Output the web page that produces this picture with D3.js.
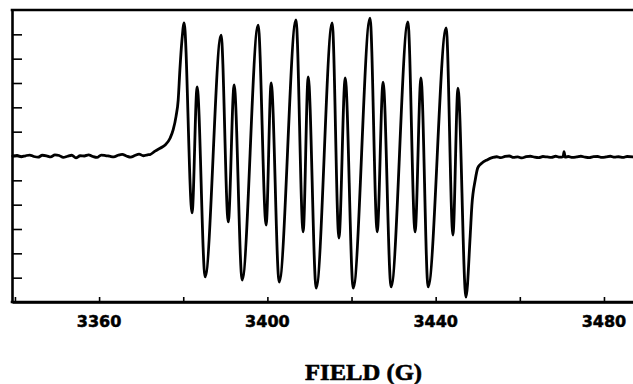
<!DOCTYPE html>
<html lang="en">
<head>
  <meta charset="UTF-8">
  <title>EPR spectrum – Field (G)</title>
  <script src="https://d3js.org/d3.v7.min.js"></script>
  <style>
    body {
      margin: 0;
      background: #fff;
    }
    .frame {
      stroke: #000;
      stroke-width: 2.6px;
      fill: none;
    }
    .tick-label {
      font-family: "DejaVu Sans", sans-serif;
      font-weight: bold;
      font-size: 16px;
      stroke: #000;
      stroke-width: 0.5px;
    }
    .axis-title {
      font-family: "Liberation Serif", "Times New Roman", serif;
      font-weight: bold;
      font-size: 23px;
      stroke: #000;
      stroke-width: 0.6px;
    }
  </style>
</head>
<body>
<div id="chart"></div>

<script>
  // field ticks (G) and labelled ones
  var fieldTicks = [3340, 3360, 3380, 3400, 3420, 3440, 3460, 3480];
  var fieldLabels = [3360, 3400, 3440, 3480];
  var signalTicks = [-5, -4, -3, -2, -1, 0, 1, 2, 3, 4, 5];

  // trace: field (G) and signal (arb. units)
  var fieldG = [
    3339.5, 3340.5, 3341.5, 3342.5, 3343.5, 3344.5, 3345.5, 3346.5, 3347.5, 3348.5,
    3349.5, 3350.5, 3351.5, 3352.5, 3353.5, 3354.5, 3355.5, 3356.5, 3357.5, 3358.5,
    3359.5, 3360.5, 3361.5, 3362.5, 3363.5, 3364.5, 3365.5, 3366.5, 3367.5, 3368.5,
    3369.5, 3370.5, 3371.5, 3372.1, 3373.3, 3374.5, 3375.7, 3376.9, 3377.6, 3378.3,
    3378.8, 3379.2, 3379.7, 3380.2, 3382.1, 3383.3, 3385.2, 3389.0, 3390.7, 3392.1,
    3394.0, 3397.8, 3399.7, 3400.9, 3402.8, 3406.8, 3408.5, 3409.7, 3411.6, 3415.4,
    3417.0, 3418.5, 3420.4, 3424.4, 3426.1, 3427.5, 3429.4, 3433.4, 3435.1, 3436.5,
    3438.2, 3442.5, 3444.1, 3445.3, 3447.2, 3448.2, 3448.6, 3449.4, 3450.0, 3451.0,
    3452.2, 3453.6, 3454.5, 3455.5, 3456.5, 3457.5, 3458.5, 3459.5, 3460.5, 3461.5,
    3462.5, 3463.5, 3464.5, 3465.5, 3466.5, 3467.5, 3468.5, 3469.5, 3470.3, 3470.5,
    3470.8, 3471.5, 3472.5, 3473.5, 3474.5, 3475.5, 3476.5, 3477.5, 3478.5, 3479.5,
    3480.5, 3481.5, 3482.5, 3483.5, 3484.5, 3485.5, 3486.9
  ];
  var signal = [
    0.00, 0.02, -0.03, 0.01, 0.04, -0.02, -0.05, 0.03, 0.01, -0.04,
    0.05, 0.02, -0.06, -0.01, 0.03, -0.08, 0.01, 0.00, 0.05, -0.02,
    -0.06, 0.04, 0.02, -0.01, -0.04, 0.03, 0.07, 0.00, -0.05, 0.02,
    0.08, 0.01, 0.05, 0.06, 0.20, 0.32, 0.45, 0.74, 1.07, 1.64,
    2.30, 3.53, 4.77, 5.47, -2.34, 2.84, -4.97, 4.97, -2.71, 2.92,
    -5.10, 5.38, -2.84, 3.00, -5.18, 5.59, -3.12, 3.25, -5.43, 5.47,
    -3.37, 3.21, -5.43, 5.67, -3.12, 3.04, -5.38, 5.51, -3.12, 3.21,
    -5.38, 5.26, -3.25, 2.79, -5.80, -3.29, -2.05, -0.99, -0.49, -0.29,
    -0.16, -0.06, -0.03, -0.07, -0.02, 0.00, -0.06, -0.04, -0.08, -0.03,
    -0.01, -0.05, -0.07, -0.02, -0.04, -0.06, -0.01, -0.05, -0.03, 0.18,
    -0.05, -0.02, -0.06, -0.04, -0.01, -0.05, -0.07, -0.03, -0.02, -0.06,
    -0.04, -0.01, -0.05, -0.03, -0.06, -0.02, -0.04
  ];

  var width = 633;
  var height = 384;
  var plotLeft = 12, plotRight = 633, plotTop = 10, plotBottom = 302;

  var svg = d3.select("#chart")
    .append("svg")
    .attr("width", width)
    .attr("height", height);

  var x = d3.scaleLinear()
    .domain([3339.3, 3486.9])
    .range([plotLeft, plotRight]);

  var y = d3.scaleLinear()
    .domain([-6, 6])
    .range([plotBottom, plotTop]);

  var data = fieldG.map((f, i) => ({ field: f, value: signal[i] }));

  // spectrum trace
  var line = d3.line()
    .curve(d3.curveMonotoneX)
    .x(d => x(d.field))
    .y(d => y(d.value));

  svg.append("path")
    .datum(data)
    .attr("d", line)
    .attr("fill", "none")
    .attr("stroke", "#000")
    .attr("stroke-width", 2.8)
    .attr("stroke-linejoin", "round")
    .attr("stroke-linecap", "round");

  // left axis, ticks pointing inward
  svg.append("g")
    .attr("transform", `translate(${plotLeft},0)`)
    .call(d3.axisRight(y).tickValues(signalTicks).tickSize(10).tickSizeOuter(0).tickFormat(""));

  // bottom axis, short ticks pointing up
  svg.append("g")
    .attr("transform", `translate(0,${plotBottom})`)
    .call(d3.axisTop(x).tickValues(fieldTicks).tickSize(5).tickSizeOuter(0).tickFormat(""));

  svg.selectAll(".domain")
    .attr("stroke", "#000")
    .attr("stroke-width", 2.6);
  svg.selectAll(".tick line")
    .attr("stroke", "#000")
    .attr("stroke-width", 1.6);

  // top border
  svg.append("line")
    .attr("class", "frame")
    .attr("x1", plotLeft - 1.3).attr("x2", plotRight)
    .attr("y1", plotTop).attr("y2", plotTop);

  // bottom axis line extends full width
  svg.append("line")
    .attr("class", "frame")
    .attr("x1", plotLeft - 1.3).attr("x2", plotRight)
    .attr("y1", plotBottom).attr("y2", plotBottom);

  svg.append("g")
    .selectAll("text")
    .data(fieldLabels)
    .enter().append("text")
    .attr("class", "tick-label")
    .attr("x", d => x(d))
    .attr("y", 327)
    .attr("text-anchor", "middle")
    .text(d => d);

  svg.append("text")
    .attr("class", "axis-title")
    .attr("x", 363.5)
    .attr("y", 380)
    .attr("text-anchor", "middle")
    .attr("textLength", 117)
    .attr("lengthAdjust", "spacingAndGlyphs")
    .text("FIELD (G)");
</script>
</body>
</html>
